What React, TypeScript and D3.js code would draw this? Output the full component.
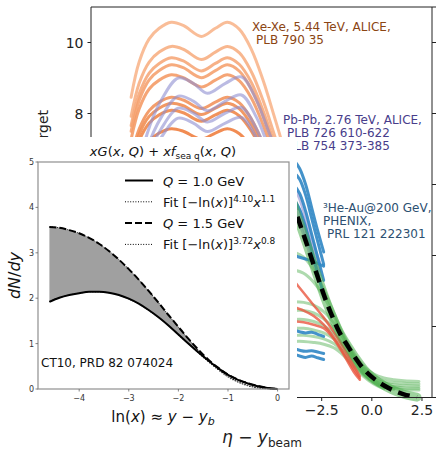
import React from "react";
import * as d3 from "d3";

const FIG_W = 436;
const FIG_H = 449;
const FONT = "'DejaVu Sans', 'Liberation Sans', sans-serif";

// ---------- main panel: dN/deta per participant vs eta - y_beam ----------
const BG_X_TICKS = [-12.5, -10, -7.5, -5, -2.5, 0, 2.5];
const BG_Y_TICKS = [0, 2, 4, 6, 8, 10];

// Xe-Xe 5.44 TeV, centrality classes (most central first)
const ETA_XE = [-12.0, -11.6, -11.1, -10.6, -10.0, -9.4, -8.5, -7.8, -7.2, -6.6, -6.0, -5.4, -4.8, -4.3, -3.8];
const XE_0 = [8.46, 9.45, 10.1, 10.4, 10.57, 10.48, 10.17, 10.4, 10.57, 10.37, 9.8, 8.9, 7.8, 6.9, 6.3];
const XE_1 = [7.92, 8.85, 9.45, 9.73, 9.89, 9.81, 9.52, 9.73, 9.89, 9.71, 9.17, 8.33, 7.3, 6.46, 5.9];
const XE_2 = [7.66, 8.55, 9.14, 9.41, 9.57, 9.48, 9.2, 9.41, 9.57, 9.38, 8.87, 8.05, 7.06, 6.24, 5.7];
const XE_3 = [7.5, 8.37, 8.95, 9.21, 9.37, 9.29, 9.01, 9.21, 9.37, 9.19, 8.68, 7.89, 6.91, 6.11, 5.58];
const XE_4 = [7.28, 8.13, 8.69, 8.94, 9.09, 9.01, 8.75, 8.94, 9.09, 8.92, 8.43, 7.65, 6.71, 5.93, 5.42];
const XE_5 = [6.77, 7.56, 8.08, 8.32, 8.46, 8.38, 8.14, 8.32, 8.46, 8.3, 7.84, 7.12, 6.24, 5.52, 5.04];
const XE_6 = [6.63, 7.41, 7.92, 8.15, 8.29, 8.22, 7.97, 8.15, 8.29, 8.13, 7.68, 6.98, 6.12, 5.41, 4.94];
const XE_7 = [6.47, 7.23, 7.73, 7.96, 8.09, 8.02, 7.78, 7.96, 8.09, 7.93, 7.5, 6.81, 5.97, 5.28, 4.82];
const XE_8 = [6.06, 6.77, 7.23, 7.45, 7.57, 7.5, 7.28, 7.45, 7.57, 7.43, 7.02, 6.37, 5.58, 4.94, 4.51];
const XE_SERIES = [XE_0, XE_1, XE_2, XE_3, XE_4, XE_5, XE_6, XE_7, XE_8];

// Pb-Pb 2.76 TeV
const ETA_PB = [-11.6, -11.2, -10.5, -9.65, -8.9, -8.2, -7.3, -6.5, -5.75, -5.1, -4.35, -3.6, -3.0, -2.6];
const PB_0 = [6.4, 7.43, 8.37, 9.0, 8.85, 8.57, 8.85, 9.03, 8.37, 7.43, 6.51, 5.6, 4.46, 3.8];
const PB_1 = [6.04, 7.01, 7.89, 8.49, 8.35, 8.08, 8.35, 8.52, 7.89, 7.01, 6.14, 5.28, 4.21, 3.58];
const PB_2 = [5.79, 6.72, 7.57, 8.15, 8.01, 7.76, 8.01, 8.17, 7.57, 6.72, 5.89, 5.07, 4.04, 3.44];
const PB_3 = [5.59, 6.49, 7.32, 7.87, 7.73, 7.49, 7.73, 7.89, 7.32, 6.49, 5.69, 4.89, 3.9, 3.32];
const PB_SERIES = [PB_0, PB_1, PB_2, PB_3];

// 3He-Au 200 GeV (PHENIX)
const ETA_HEAU = [-3.9, -3.6, -3.3, -3.0, -2.7, -2.4];
const HEAU_0 = [6.7, 6.45, 6.0, 5.35, 4.7, 4.1];
const HEAU_1 = [6.35, 6.15, 5.7, 5.05, 4.4, 3.75];
const HEAU_2 = [6.0, 5.75, 5.25, 4.6, 3.95, 3.3];
const HEAU_3 = [5.6, 5.3, 4.8, 4.15, 3.5, 2.9];
const HEAU_4 = [4.0, 3.95, 3.9, 3.85, 3.78, 3.7];
const HEAU_5 = [1.9, 1.85, 1.82, 1.84, 1.78, 1.72];
const HEAU_6 = [1.38, 1.33, 1.3, 1.32, 1.28, 1.24];
const HEAU_7 = [1.22, 1.17, 1.13, 1.17, 1.12, 1.07];
const HEAU_SERIES = [HEAU_0, HEAU_1, HEAU_2, HEAU_3, HEAU_4, HEAU_5, HEAU_6, HEAU_7];

// lower-energy systems reaching the fragmentation region
const ETA_GREEN = [-3.9, -3.4, -2.9, -2.4, -1.9, -1.4, -0.9, -0.4, 0.1, 0.6, 1.1, 1.6, 2.35];
const GREEN_0 = [4.1, 3.95, 3.6, 3.05, 2.4, 1.75, 1.25, 0.88, 0.66, 0.55, 0.5, 0.47, 0.45];
const GREEN_1 = [3.6, 3.5, 3.25, 2.85, 2.3, 1.7, 1.2, 0.84, 0.6, 0.47, 0.42, 0.4, 0.38];
const GREEN_2 = [2.7, 2.68, 2.6, 2.42, 2.1, 1.65, 1.15, 0.78, 0.54, 0.41, 0.35, 0.33, 0.32];
const GREEN_3 = [2.45, 2.45, 2.38, 2.22, 1.95, 1.55, 1.1, 0.74, 0.5, 0.36, 0.3, 0.27, 0.26];
const GREEN_4 = [2.2, 2.2, 2.14, 2.02, 1.8, 1.45, 1.05, 0.7, 0.47, 0.33, 0.26, 0.22, 0.21];
const GREEN_5 = [1.95, 1.95, 1.9, 1.82, 1.65, 1.36, 0.99, 0.66, 0.44, 0.3, 0.23];
const GREEN_6 = [1.75, 1.75, 1.72, 1.65, 1.52, 1.27, 0.93, 0.63, 0.41, 0.28];
const GREEN_7 = [1.58, 1.58, 1.55, 1.5, 1.4, 1.18, 0.87, 0.59, 0.38, 0.25];
const GREEN_SERIES = [GREEN_0, GREEN_1, GREEN_2, GREEN_3, GREEN_4, GREEN_5, GREEN_6, GREEN_7];

const ETA_RED = [-3.9, -3.4, -2.9, -2.4, -1.9, -1.4, -0.9, -0.6];
const RED_0 = [3.3, 2.95, 2.6, 2.25, 1.85, 1.4, 0.9, 0.6];
const RED_1 = [2.55, 2.45, 2.3, 2.05, 1.7, 1.25, 0.8, 0.55];
const RED_2 = [2.15, 2.12, 2.05, 1.95, 1.65, 1.2, 0.72, 0.5];
const RED_SERIES = [RED_0, RED_1, RED_2];

// CT10 gluon+sea shape, scaled onto the main panel
const ETA_CT10 = [-4.0, -3.7, -3.2, -2.7, -2.2, -1.6, -1.2, -0.8, -0.4, 0.0, 0.4, 1.0, 1.6, 2.25];
const CT10_SCALED = [5.6, 5.08, 4.25, 3.4, 2.6, 1.82, 1.45, 1.1, 0.8, 0.58, 0.41, 0.22, 0.09, 0.01];

// ---------- inset: xG + x f_sea vs ln(x) ----------
const LNX = [-4.6, -4.4, -4.2, -4.0, -3.8, -3.6, -3.4, -3.2, -3.0, -2.8, -2.6, -2.4, -2.2, -2.0, -1.8, -1.6, -1.4, -1.2, -1.0, -0.8, -0.6, -0.4, -0.2, 0.0];
const Q10 = [1.92, 2.01, 2.07, 2.11, 2.14, 2.14, 2.12, 2.07, 1.99, 1.88, 1.74, 1.58, 1.4, 1.2, 1.0, 0.81, 0.63, 0.46, 0.31, 0.2, 0.12, 0.06, 0.02, 0.0];
const FIT10 = [1.93, 2.01, 2.07, 2.11, 2.14, 2.14, 2.12, 2.07, 1.98, 1.87, 1.73, 1.57, 1.39, 1.19, 0.99, 0.79, 0.6, 0.42, 0.26, 0.15, 0.07, 0.025, 0.005, 0.0];
const Q15 = [3.57, 3.55, 3.5, 3.43, 3.33, 3.2, 3.04, 2.85, 2.64, 2.41, 2.16, 1.9, 1.63, 1.37, 1.11, 0.87, 0.65, 0.47, 0.32, 0.21, 0.13, 0.07, 0.025, 0.0];
const FIT15 = [3.57, 3.55, 3.5, 3.43, 3.33, 3.2, 3.04, 2.85, 2.64, 2.41, 2.16, 1.9, 1.63, 1.36, 1.1, 0.85, 0.63, 0.44, 0.28, 0.16, 0.08, 0.03, 0.006, 0.0];
const IN_X_TICKS = [-4, -3, -2, -1, 0];
const IN_Y_TICKS = [0, 1, 2, 3, 4, 5];

// region of the figure occupied by the inset panel
const INSET_BOX = { x: 0, y: 137, w: 297, h: 293 };

const minus = (s: string) => s.replace("-", "\u2212");

export default function App() {
  // main panel scales
  const bx = d3.scaleLinear().domain([-14, 3]).range([91, 432]);
  const by = d3.scaleLinear().domain([0, 11]).range([397.5, 7]);
  const bgPath = (xs: number[], ys: number[]) =>
    d3
      .line<number>()
      .x((_, i) => bx(xs[i]))
      .y((v) => by(v))
      .curve(d3.curveCatmullRom.alpha(0.5))(ys) ?? "";

  // inset scales
  const ix = d3.scaleLinear().domain([-4.83, 0.23]).range([38, 289]);
  const iy = d3.scaleLinear().domain([0, 5]).range([389, 162]);
  const inPath = (ys: number[]) =>
    d3
      .line<number>()
      .x((_, i) => ix(LNX[i]))
      .y((v) => iy(v))
      .curve(d3.curveMonotoneX)(ys) ?? "";
  const band =
    d3
      .area<number>()
      .x((d) => ix(d))
      .y0((_, i) => iy(Q10[i]))
      .y1((_, i) => iy(Q15[i]))
      .curve(d3.curveMonotoneX)(LNX) ?? "";

  const xeColor = d3.interpolateRgb("#f8b68d", "#ef8040");

  // tick labels of the main panel that are not under the inset
  const insetRight = INSET_BOX.x + INSET_BOX.w;
  const xTickLabels = BG_X_TICKS.filter((t) => bx(t) - 16 > insetRight);
  const yTickLabels = BG_Y_TICKS.filter((t) => by(t) + 6 < INSET_BOX.y);

  const legendRows = [{ kind: "solid" }, { kind: "dot" }, { kind: "dash" }, { kind: "dot" }];
  const legendY = (i: number) => 180.5 + 21.3 * i;

  return (
    <svg
      width={FIG_W}
      height={FIG_H}
      style={{ position: "absolute", left: 0, top: 0, background: "#fff" }}
      fontFamily={FONT}
    >
      <rect x={0} y={0} width={FIG_W} height={FIG_H} fill="#fff" />

      {/* ----- main panel curves ----- */}
      <g fill="none" strokeLinejoin="round" strokeLinecap="round">
        {XE_SERIES.map((s, i) => (
          <path key={"xe" + i} d={bgPath(ETA_XE, s)} stroke={xeColor(i / (XE_SERIES.length - 1))} strokeWidth={3} opacity={0.9} />
        ))}
        {PB_SERIES.map((s, i) => (
          <path key={"pb" + i} d={bgPath(ETA_PB, s)} stroke="#8d8dd0" strokeWidth={3} opacity={0.6} />
        ))}
        {GREEN_SERIES.map((s, i) => (
          <path key={"gr" + i} d={bgPath(ETA_GREEN, s)} stroke="#4cae4c" strokeWidth={3} opacity={0.45} />
        ))}
        {HEAU_SERIES.map((s, i) => (
          <path key={"he" + i} d={bgPath(ETA_HEAU, s)} stroke="#2f86c4" strokeWidth={3} opacity={0.9} />
        ))}
        {RED_SERIES.map((s, i) => (
          <path key={"rd" + i} d={bgPath(ETA_RED, s)} stroke="#ea5640" strokeWidth={2.5} opacity={0.8} />
        ))}
        <path d={bgPath(ETA_CT10, CT10_SCALED)} stroke="#4cae4c" strokeWidth={9} opacity={0.55} />
        <path d={bgPath(ETA_CT10, CT10_SCALED)} stroke="#000" strokeWidth={4.5} strokeDasharray="12,7" strokeLinecap="butt" />
      </g>

      {/* ----- main panel axes ----- */}
      <g stroke="#222" strokeWidth={1} fill="none">
        <line x1={91} x2={91} y1={7} y2={397.5} />
        <line x1={432} x2={432} y1={7} y2={397.5} />
        <line x1={91} x2={436} y1={7} y2={7} />
        <line x1={91} x2={432} y1={397.5} y2={397.5} />
        {BG_Y_TICKS.map((t) => (
          <line key={"ly" + t} x1={87.5} x2={91} y1={by(t)} y2={by(t)} />
        ))}
        {BG_Y_TICKS.map((t) => (
          <line key={"ry" + t} x1={432} x2={436} y1={by(t)} y2={by(t)} />
        ))}
        {BG_X_TICKS.map((t) => (
          <line key={"bx" + t} x1={bx(t)} x2={bx(t)} y1={397.5} y2={401} />
        ))}
      </g>
      <g fontSize={14} fill="#222">
        {yTickLabels.map((t) => (
          <text key={"lyl" + t} x={83.5} y={by(t) + 5} textAnchor="end">
            {t}
          </text>
        ))}
        {xTickLabels.map((t) => (
          <text key={"bxl" + t} x={bx(t)} y={415} textAnchor="middle">
            {minus(t.toFixed(1))}
          </text>
        ))}
      </g>
      <text transform="translate(48,110) rotate(-90)" textAnchor="end" fontSize={14} fill="#222">
        per target
      </text>

      {/* ----- dataset annotations ----- */}
      <g fontSize={12}>
        <text x={252} y={31} fill="#8b4513">Xe-Xe, 5.44 TeV, ALICE,</text>
        <text x={256} y={43.5} fill="#8b4513">PLB 790 35</text>
        <text x={283} y={124} fill="#483d8b">Pb-Pb, 2.76 TeV, ALICE,</text>
        <text x={287} y={137} fill="#483d8b">PLB 726 610-622</text>
        <text x={287} y={150} fill="#483d8b">PLB 754 373-385</text>
        <text x={323} y={212} fill="#2d5071">³He-Au@200 GeV,</text>
        <text x={323} y={225} fill="#2d5071">PHENIX,</text>
        <text x={327} y={238} fill="#2d5071">PRL 121 222301</text>
      </g>

      {/* main x label */}
      <text x={262} y={443} textAnchor="middle" fontSize={17} fill="#222">
        <tspan fontStyle="italic">η</tspan>
        {" \u2212 "}
        <tspan fontStyle="italic">y</tspan>
        <tspan dy={3.5} fontSize={12}>beam</tspan>
      </text>

      {/* ----- inset ----- */}
      <rect x={INSET_BOX.x} y={INSET_BOX.y} width={INSET_BOX.w} height={INSET_BOX.h} fill="#fff" />

      <text x={163} y={156} textAnchor="middle" fontSize={13} fill="#111">
        <tspan fontStyle="italic">xG</tspan>(<tspan fontStyle="italic">x</tspan>, <tspan fontStyle="italic">Q</tspan>) + <tspan fontStyle="italic">xf</tspan>
        <tspan dy={3} fontSize={9}>sea q</tspan>
        <tspan dy={-3}>(</tspan>
        <tspan fontStyle="italic">x</tspan>, <tspan fontStyle="italic">Q</tspan>)
      </text>

      <path d={band} fill="#a0a0a0" stroke="none" />
      <g fill="none">
        <path d={inPath(Q10)} stroke="#000" strokeWidth={2} />
        <path d={inPath(Q15)} stroke="#000" strokeWidth={2} strokeDasharray="7,3" />
        <path d={inPath(FIT10)} stroke="#000" strokeWidth={1} strokeDasharray="1,1.6" />
        <path d={inPath(FIT15)} stroke="#000" strokeWidth={1} strokeDasharray="1,1.6" />
      </g>

      <rect x={38} y={162} width={251} height={227} fill="none" stroke="#8f8f8f" strokeWidth={1.2} />
      <g stroke="#666" strokeWidth={0.8}>
        {IN_Y_TICKS.map((t) => (
          <line key={"iy" + t} x1={35.5} x2={38} y1={iy(t)} y2={iy(t)} />
        ))}
        {IN_X_TICKS.map((t) => (
          <line key={"ix" + t} x1={ix(t)} x2={ix(t)} y1={389} y2={391.5} />
        ))}
      </g>
      <g fontSize={8} fill="#333">
        {IN_Y_TICKS.map((t) => (
          <text key={"iyl" + t} x={34} y={iy(t) + 3} textAnchor="end">
            {t}
          </text>
        ))}
        {IN_X_TICKS.map((t) => (
          <text key={"ixl" + t} x={ix(t)} y={401} textAnchor="middle">
            {minus(String(t))}
          </text>
        ))}
      </g>

      {/* legend */}
      <g>
        {legendRows.map((r, i) => (
          <line
            key={"lg" + i}
            x1={125}
            x2={153}
            y1={legendY(i)}
            y2={legendY(i)}
            stroke="#000"
            strokeWidth={r.kind === "dot" ? 1 : 2}
            strokeDasharray={r.kind === "dot" ? "1,1.6" : r.kind === "dash" ? "7,3" : undefined}
          />
        ))}
      </g>
      <g fontSize={13} fill="#111">
        <text x={163} y={legendY(0) + 5}>
          <tspan fontStyle="italic">Q</tspan> = 1.0 GeV
        </text>
        <text x={163} y={legendY(1) + 5}>
          Fit [−ln(<tspan fontStyle="italic">x</tspan>)]
          <tspan dy={-5} fontSize={9}>4.10</tspan>
          <tspan dy={5} fontStyle="italic">x</tspan>
          <tspan dy={-5} fontSize={9}>1.1</tspan>
        </text>
        <text x={163} y={legendY(2) + 5}>
          <tspan fontStyle="italic">Q</tspan> = 1.5 GeV
        </text>
        <text x={163} y={legendY(3) + 5}>
          Fit [−ln(<tspan fontStyle="italic">x</tspan>)]
          <tspan dy={-5} fontSize={9}>3.72</tspan>
          <tspan dy={5} fontStyle="italic">x</tspan>
          <tspan dy={-5} fontSize={9}>0.8</tspan>
        </text>
      </g>

      <text x={41} y={367} fontSize={12} fill="#111">
        CT10, PRD 82 074024
      </text>

      {/* inset axis labels */}
      <text x={163} y={422} textAnchor="middle" fontSize={15} fill="#111">
        ln(<tspan fontStyle="italic">x</tspan>) ≈ <tspan fontStyle="italic">y</tspan> − <tspan fontStyle="italic">y</tspan>
        <tspan dy={3} fontSize={11} fontStyle="italic">b</tspan>
      </text>
      <text transform="translate(20,275.5) rotate(-90)" textAnchor="middle" fontSize={16} fill="#111">
        <tspan fontStyle="italic">dN</tspan>/<tspan fontStyle="italic">dy</tspan>
      </text>
    </svg>
  );
}
